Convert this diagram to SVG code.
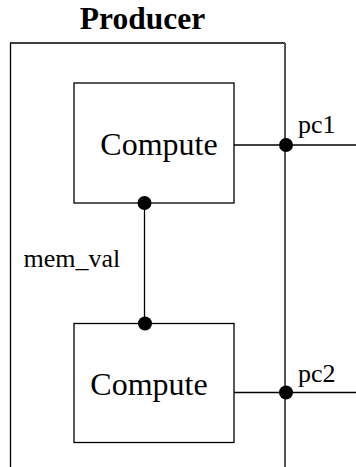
<svg xmlns="http://www.w3.org/2000/svg" width="356" height="467" viewBox="0 0 356 467">
<style>
.box{fill:#fff;stroke:#000;stroke-width:1.3}
.wire{fill:none;stroke:#000;stroke-width:1.3}
.dot{fill:#000}
text{font-family:"Liberation Serif","Times New Roman",serif;fill:#000}
.big{font-size:32px}
.lbl{font-size:26px}
.title{font-size:31.5px;font-weight:bold}
</style>
<rect width="356" height="467" fill="#fff"/>
<g id="producer">
<path d="M10.5,467 V43 H285" fill="none" stroke="#000" stroke-width="1.3"/>
<line x1="285" y1="43" x2="285" y2="467" stroke="#555" stroke-width="2"/>
<text class="title" x="142.5" y="29" text-anchor="middle">Producer</text>
</g>
<g id="compute1">
<rect class="box" x="74" y="83" width="160" height="120"/>
<text class="big" x="159" y="155" text-anchor="middle">Compute</text>
</g>
<g id="compute2">
<rect class="box" x="74" y="323.5" width="160" height="119"/>
<text class="big" x="149" y="395" text-anchor="middle">Compute</text>
</g>
<g id="connectors">
<line class="wire" x1="234" y1="145" x2="356" y2="145"/>
<line class="wire" x1="234" y1="392.5" x2="356" y2="392.5"/>
<line class="wire" x1="144.5" y1="203" x2="144.5" y2="323.5"/>
<circle class="dot" cx="286" cy="145" r="7"/>
<circle class="dot" cx="286" cy="392.5" r="7"/>
<circle class="dot" cx="144.5" cy="203" r="7"/>
<circle class="dot" cx="145" cy="323.5" r="7"/>
<text class="lbl" x="298" y="133">pc1</text>
<text class="lbl" x="298" y="381.5">pc2</text>
<text class="lbl" x="23.5" y="266.5">mem_val</text>
</g>
</svg>
